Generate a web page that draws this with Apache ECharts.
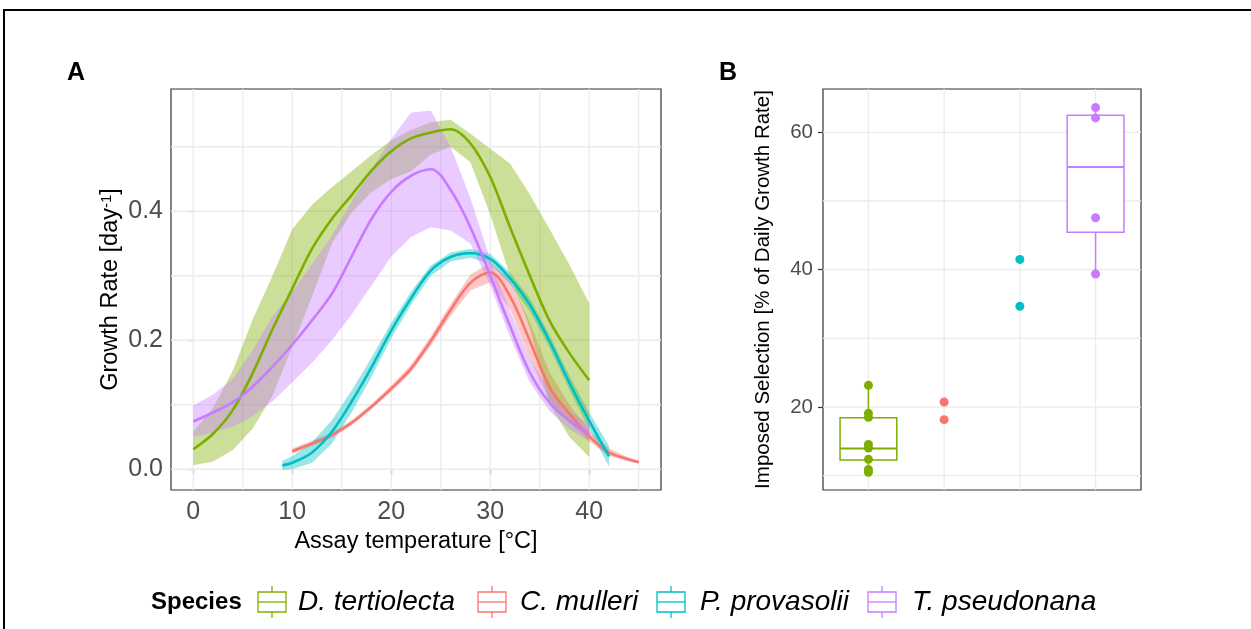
<!DOCTYPE html>
<html><head><meta charset="utf-8">
<script src="https://cdn.jsdelivr.net/npm/echarts@6/dist/echarts.min.js"></script>
<style>html,body{margin:0;padding:0;background:#fff}#c{width:1251px;height:629px}</style>
</head><body><div id="c"></div>
<script>
// ---------- data ----------
const species = ['D. tertiolecta', 'C. mulleri', 'P. provasolii', 'T. pseudonana'];
const speciesColors = ['#7CAE00', '#F8766D', '#00BFC4', '#C77CFF'];

// Panel A: growth rate fits (day^-1) vs assay temperature (°C)
const tempGreen = [0,2,4,6,8,10,12,14,16,18,20,22,24,26,28,30,32,34,36,38,40];
const greenFit = [0.031,0.055,0.092,0.149,0.217,0.280,0.342,0.388,0.425,0.463,0.493,0.513,0.522,0.527,0.505,0.453,0.375,0.300,0.230,0.180,0.138];
const greenLo  = [0.006,0.012,0.030,0.063,0.114,0.190,0.268,0.350,0.398,0.430,0.450,0.462,0.488,0.500,0.476,0.395,0.300,0.218,0.100,0.050,0.019];
const greenHi  = [0.058,0.095,0.153,0.232,0.300,0.372,0.410,0.437,0.462,0.487,0.510,0.526,0.538,0.542,0.520,0.497,0.474,0.426,0.372,0.317,0.257];

const tempPurple = [0,2,4,6,8,10,12,14,16,18,20,22,24,26,28,30,32,34,36,38,40];
const purpleFit = [0.074,0.088,0.104,0.128,0.159,0.193,0.231,0.272,0.330,0.388,0.430,0.455,0.465,0.433,0.375,0.300,0.222,0.150,0.103,0.075,0.055];
const purpleLo  = [0.050,0.057,0.066,0.082,0.105,0.135,0.165,0.200,0.240,0.285,0.330,0.360,0.375,0.370,0.350,0.285,0.205,0.135,0.090,0.062,0.043];
const purpleHi  = [0.099,0.116,0.140,0.185,0.237,0.275,0.318,0.362,0.415,0.465,0.512,0.553,0.556,0.500,0.420,0.325,0.245,0.172,0.122,0.090,0.070];

const tempCyan = [9,10,12,14,16,18,20,22,24,26,28,30,32,34,36,38,40,42];
const cyanFit = [0.006,0.010,0.026,0.058,0.105,0.158,0.215,0.265,0.308,0.329,0.335,0.326,0.296,0.255,0.198,0.134,0.075,0.020];
const cyanLo  = [-0.001,0.000,0.010,0.040,0.088,0.143,0.203,0.255,0.300,0.322,0.328,0.318,0.287,0.245,0.188,0.123,0.062,0.004];
const cyanHi  = [0.013,0.020,0.042,0.076,0.122,0.173,0.227,0.275,0.316,0.336,0.342,0.334,0.305,0.265,0.208,0.145,0.088,0.036];

const tempRed = [10,12,14,16,18,20,22,24,26,28,30,32,34,36,38,40,42,44,45];
const redFit = [0.028,0.040,0.053,0.072,0.097,0.125,0.156,0.199,0.247,0.289,0.305,0.268,0.199,0.127,0.086,0.051,0.026,0.015,0.011];
const redLo  = [0.024,0.036,0.049,0.068,0.093,0.120,0.150,0.192,0.238,0.277,0.290,0.248,0.172,0.106,0.072,0.043,0.021,0.012,0.009];
const redHi  = [0.032,0.044,0.057,0.076,0.101,0.130,0.162,0.206,0.256,0.302,0.320,0.295,0.228,0.150,0.100,0.060,0.032,0.018,0.013];

const xTicksA = [0, 10, 20, 30, 40];
const xGridA = [0, 5, 10, 15, 20, 25, 30, 35, 40, 45];
const yTicksA = [0, 0.2, 0.4];
const yGridA = [0, 0.1, 0.2, 0.3, 0.4, 0.5];

// Panel B: imposed selection (%) per species position
const catB = [1, 2, 3, 4];
const ptsGreen  = [23.16, 19.08, 18.5, 14.56, 14.03, 12.38, 10.92, 10.49];
const ptsRed    = [20.73, 18.16];
const ptsCyan   = [41.5, 34.66];
const ptsPurple = [63.6, 62.1, 47.57, 39.37];
// box stats: [min, q1, median, q3, max]
const boxGreen  = [10.49, 12.28, 13.98, 18.45, 23.16];
const boxPurple = [39.37, 45.44, 54.95, 62.47, 63.6];
const yTicksB = [20, 40, 60];
const yGridB = [10, 20, 30, 40, 50, 60];

// ---------- layout / style ----------
const FONT = "'Liberation Sans', Arial, sans-serif";
const AX = [-2.25, 47.25], AY = [-0.0322, 0.5895];
const BX = [0.4, 4.6], BY = [7.92, 66.31];
const GRIDC = '#EBEBEB';

function rgba(hex, a) {
  const n = parseInt(hex.slice(1), 16);
  return 'rgba(' + ((n >> 16) & 255) + ',' + ((n >> 8) & 255) + ',' + (n & 255) + ',' + a + ')';
}

function vGrid(vals, yr, gi) {
  return { type: 'custom', xAxisIndex: gi, yAxisIndex: gi, silent: true,
    data: vals.map(v => [v, yr[0]]), encode: { x: 0, y: 1 },
    renderItem: (p, api) => {
      const a = api.coord([api.value(0), yr[0]]), b = api.coord([api.value(0), yr[1]]);
      return { type: 'line', shape: { x1: a[0], y1: a[1], x2: b[0], y2: b[1] }, style: { stroke: GRIDC, lineWidth: 1.3 } };
    } };
}
function hGrid(vals, xr, gi) {
  return { type: 'custom', xAxisIndex: gi, yAxisIndex: gi, silent: true,
    data: vals.map(v => [xr[0], v]), encode: { x: 0, y: 1 },
    renderItem: (p, api) => {
      const a = api.coord([xr[0], api.value(1)]), b = api.coord([xr[1], api.value(1)]);
      return { type: 'line', shape: { x1: a[0], y1: a[1], x2: b[0], y2: b[1] }, style: { stroke: GRIDC, lineWidth: 1.3 } };
    } };
}
function band(xs, lo, hi, color) {
  return { type: 'custom', xAxisIndex: 0, yAxisIndex: 0, silent: true,
    data: xs.map((x, i) => [x, lo[i], hi[i]]), encode: { x: 0, y: [1, 2] },
    renderItem: (p, api) => {
      if (p.dataIndex !== 0) return null;
      const pts = [];
      for (let i = 0; i < xs.length; i++) pts.push(api.coord([xs[i], hi[i]]));
      for (let i = xs.length - 1; i >= 0; i--) pts.push(api.coord([xs[i], lo[i]]));
      return { type: 'polygon', shape: { points: pts }, style: { fill: rgba(color, 0.4) } };
    } };
}
function fitLine(xs, ys, color) {
  return { type: 'line', xAxisIndex: 0, yAxisIndex: 0, silent: true, showSymbol: false, smooth: 0.35,
    data: xs.map((x, i) => [x, ys[i]]), lineStyle: { color: color, width: 2.6 }, itemStyle: { color: color } };
}
function boxSeries(cat, stats, color) {
  return { type: 'custom', xAxisIndex: 1, yAxisIndex: 1, silent: true,
    data: [[cat].concat(stats)], encode: { x: 0, y: [1, 2, 3, 4, 5] },
    renderItem: (p, api) => {
      const c = api.value(0);
      const w = api.size([0.75, 0])[0] / 2;
      const pmin = api.coord([c, api.value(1)]), pq1 = api.coord([c, api.value(2)]),
            pmed = api.coord([c, api.value(3)]), pq3 = api.coord([c, api.value(4)]), pmax = api.coord([c, api.value(5)]);
      const st = { stroke: color, lineWidth: 1.5, fill: null };
      return { type: 'group', children: [
        { type: 'line', shape: { x1: pmax[0], y1: pmax[1], x2: pq3[0], y2: pq3[1] }, style: st },
        { type: 'line', shape: { x1: pq1[0], y1: pq1[1], x2: pmin[0], y2: pmin[1] }, style: st },
        { type: 'rect', shape: { x: pq3[0] - w, y: pq3[1], width: 2 * w, height: pq1[1] - pq3[1] }, style: { stroke: color, lineWidth: 1.5, fill: '#fff' } },
        { type: 'line', shape: { x1: pmed[0] - w, y1: pmed[1], x2: pmed[0] + w, y2: pmed[1] }, style: { stroke: color, lineWidth: 2 } }
      ] };
    } };
}
function pts(cat, vals, color) {
  return { type: 'scatter', xAxisIndex: 1, yAxisIndex: 1, silent: true, symbolSize: 9,
    data: vals.map(v => [cat, v]), itemStyle: { color: color, opacity: 1 } };
}

const tickStyle = { lineStyle: { color: '#333333', width: 1.2 }, length: 5 };

// ---------- legend (graphic) ----------
const legendKeyX = [258, 478, 657, 868];
const legendTextX = [298, 520, 700, 912];
const LY = 602;
const graphics = [
  { type: 'rect', shape: { x: 4, y: 10, width: 1400, height: 900 }, style: { fill: 'none', stroke: '#000', lineWidth: 2 }, silent: true },
  { type: 'text', x: 67, y: 73, style: { text: 'A', font: 'bold 25px ' + FONT, fill: '#000', verticalAlign: 'middle' } },
  { type: 'text', x: 719, y: 73, style: { text: 'B', font: 'bold 25px ' + FONT, fill: '#000', verticalAlign: 'middle' } },
  { type: 'text', x: 151, y: LY, style: { text: 'Species', font: 'bold 24px ' + FONT, fill: '#000', verticalAlign: 'middle' } }
];
species.forEach((s, i) => {
  const cx = legendKeyX[i] + 14, c = speciesColors[i];
  graphics.push({ type: 'line', shape: { x1: cx, y1: LY - 16, x2: cx, y2: LY - 10 }, style: { stroke: c, lineWidth: 1.3 } });
  graphics.push({ type: 'line', shape: { x1: cx, y1: LY + 10, x2: cx, y2: LY + 16 }, style: { stroke: c, lineWidth: 1.3 } });
  graphics.push({ type: 'rect', shape: { x: cx - 14, y: LY - 10, width: 28, height: 20 }, style: { fill: '#fff', stroke: c, lineWidth: 1.3 } });
  graphics.push({ type: 'line', shape: { x1: cx - 14, y1: LY, x2: cx + 14, y2: LY }, style: { stroke: c, lineWidth: 1.3 } });
  graphics.push({ type: 'text', x: legendTextX[i], y: LY, style: { text: s, font: 'italic 28px ' + FONT, fill: '#000', verticalAlign: 'middle' } });
});

const option = {
  animation: false,
  backgroundColor: '#fff',
  textStyle: { fontFamily: FONT },
  grid: [
    { left: 171, top: 89, width: 490, height: 401, show: true, borderColor: '#333333', borderWidth: 1.2, backgroundColor: 'transparent', containLabel: false },
    { left: 823, top: 89, width: 318, height: 401, show: true, borderColor: '#333333', borderWidth: 1.2, backgroundColor: 'transparent', containLabel: false }
  ],
  xAxis: [
    { type: 'value', gridIndex: 0, min: AX[0], max: AX[1], splitLine: { show: false }, axisLine: { show: false },
      axisTick: Object.assign({ show: true, customValues: xTicksA }, tickStyle),
      axisLabel: { customValues: xTicksA, color: '#4D4D4D', fontSize: 25, margin: 10, fontFamily: FONT },
      name: 'Assay temperature [°C]', nameLocation: 'middle', nameGap: 35,
      nameTextStyle: { fontSize: 23.5, color: '#000', fontFamily: FONT } },
    { type: 'value', gridIndex: 1, min: BX[0], max: BX[1], splitLine: { show: false }, axisLine: { show: false },
      axisTick: { show: false }, axisLabel: { show: false } }
  ],
  yAxis: [
    { type: 'value', gridIndex: 0, min: AY[0], max: AY[1], splitLine: { show: false }, axisLine: { show: false },
      axisTick: Object.assign({ show: true, customValues: yTicksA }, tickStyle),
      axisLabel: { customValues: yTicksA, color: '#4D4D4D', fontSize: 25, margin: 8, fontFamily: FONT, formatter: v => v.toFixed(1) },
      name: 'Growth Rate [day{s|-1}]', nameLocation: 'middle', nameGap: 48, nameRotate: 90,
      nameTextStyle: { fontSize: 23.5, color: '#000', fontFamily: FONT,
        rich: { s: { fontSize: 15, color: '#000', verticalAlign: 'top', fontFamily: FONT } } } },
    { type: 'value', gridIndex: 1, min: BY[0], max: BY[1], splitLine: { show: false }, axisLine: { show: false },
      axisTick: Object.assign({ show: true, customValues: yTicksB }, tickStyle),
      axisLabel: { customValues: yTicksB, color: '#4D4D4D', fontSize: 20.5, margin: 10, fontFamily: FONT },
      name: 'Imposed Selection [% of Daily Growth Rate]', nameLocation: 'middle', nameGap: 49, nameRotate: 90,
      nameTextStyle: { fontSize: 20.5, color: '#000', fontFamily: FONT } }
  ],
  graphic: graphics,
  series: [
    vGrid(xGridA, AY, 0), hGrid(yGridA, AX, 0),
    vGrid(catB, BY, 1), hGrid(yGridB, BX, 1),
    band(tempRed, redLo, redHi, speciesColors[1]), fitLine(tempRed, redFit, speciesColors[1]),
    band(tempCyan, cyanLo, cyanHi, speciesColors[2]), fitLine(tempCyan, cyanFit, speciesColors[2]),
    band(tempGreen, greenLo, greenHi, speciesColors[0]), fitLine(tempGreen, greenFit, speciesColors[0]),
    band(tempPurple, purpleLo, purpleHi, speciesColors[3]), fitLine(tempPurple, purpleFit, speciesColors[3]),
    boxSeries(catB[0], boxGreen, speciesColors[0]), boxSeries(catB[3], boxPurple, speciesColors[3]),
    pts(catB[0], ptsGreen, speciesColors[0]), pts(catB[1], ptsRed, speciesColors[1]),
    pts(catB[2], ptsCyan, speciesColors[2]), pts(catB[3], ptsPurple, speciesColors[3])
  ]
};
const chart = echarts.init(document.getElementById('c'), null, { renderer: 'canvas' });
chart.setOption(option);
</script>
</body></html>
